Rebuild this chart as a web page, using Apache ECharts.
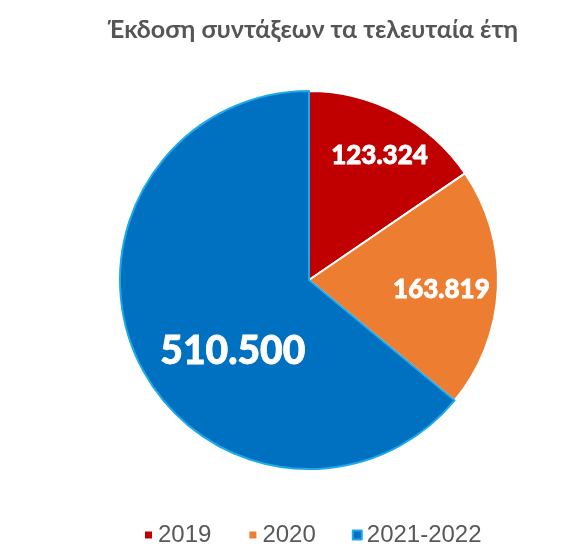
<!DOCTYPE html>
<html><head><meta charset="utf-8">
<script src="https://cdn.jsdelivr.net/npm/echarts@6/dist/echarts.min.js"></script>
<style>html,body{margin:0;padding:0;background:#fff}#c{width:578px;height:558px}</style>
</head><body><div id="c"></div>
<script>
const categories = ['2019', '2020', '2021-2022'];
const values = [123324, 163819, 510500];
const labelTexts = ['123.324', '163.819', '510.500'];
const colors = ['#C00000', '#ED7D31', '#0070C0'];
const borderColors = ['#ffffff', '#ffffff', '#1EA8EC'];
const labelSizes = [26, 26, 39];
const labelOffsets = [[25, -38], [35, 5], [12, 30]];

const chart = echarts.init(document.getElementById('c'));
chart.setOption({
  animation: false,
  title: {
    text: 'Έκδοση συντάξεων τα τελευταία έτη',
    left: 308, top: 12, textAlign: 'center',
    textStyle: {fontFamily: 'Lato', fontWeight: 'bold', fontSize: 25, color: '#555555'}
  },
  legend: {
    bottom: 6, left: 138,
    icon: 'rect', itemWidth: 9, itemHeight: 9, itemGap: 36,
    textStyle: {fontFamily: 'Liberation Sans', fontSize: 24, color: '#595959'},
    data: categories
  },
  series: [{
    type: 'pie',
    center: [309, 280], radius: [0, 189],
    startAngle: 90, clockwise: true,
    label: {position: 'inside', color: '#fff', fontFamily: 'Lato', fontWeight: 900,
            textBorderColor: '#fff', textBorderWidth: 0.8},
    labelLine: {show: false},
    data: categories.map((c, i) => ({
      name: c, value: values[i],
      itemStyle: {color: colors[i], borderColor: borderColors[i], borderWidth: 2},
      label: {formatter: labelTexts[i], fontSize: labelSizes[i], offset: labelOffsets[i]}
    }))
  }]
});
</script></body></html>
